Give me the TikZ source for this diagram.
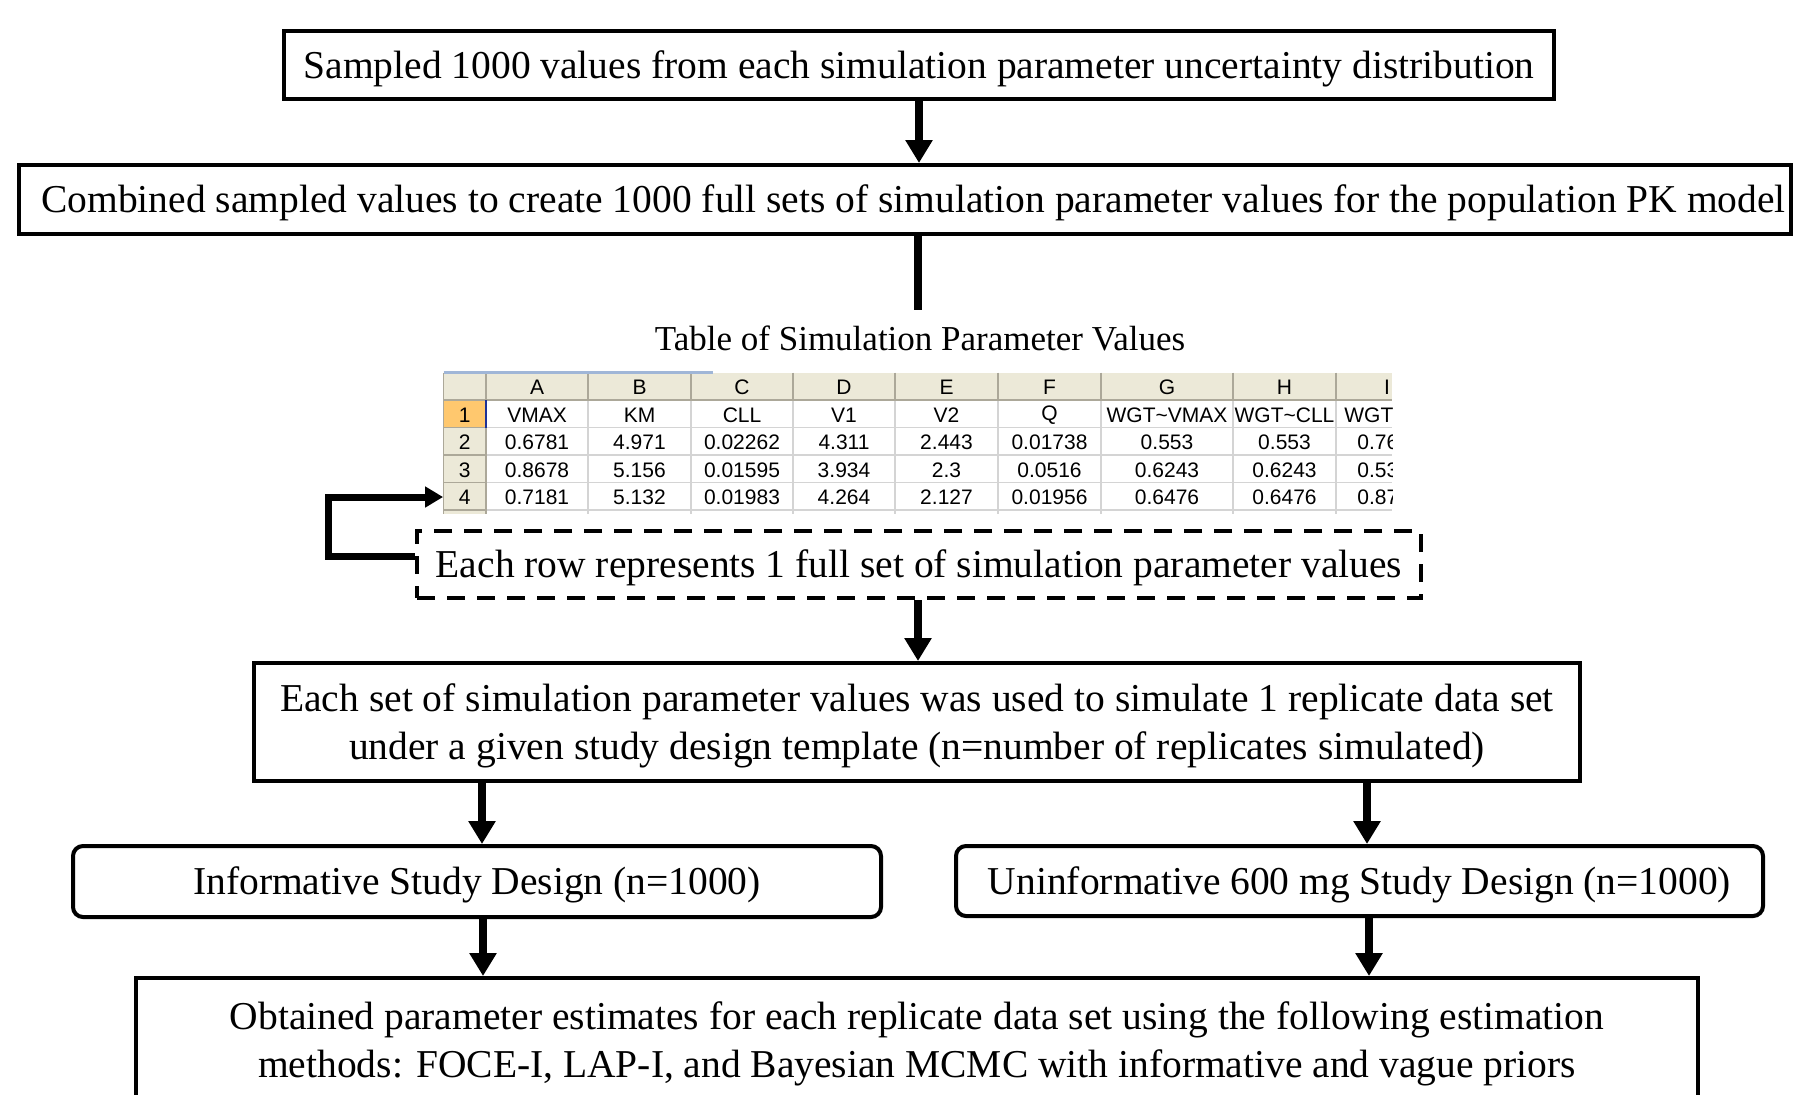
\documentclass[tikz,border=0pt]{standalone}
\usepackage{fontspec}
\setmainfont{Liberation Serif}
\newfontfamily\sheetfont{Liberation Sans}
\usetikzlibrary{arrows.meta,calc}
\definecolor{sheethead}{RGB}{236,233,216}
\definecolor{sheetsel}{RGB}{255,200,110}
\definecolor{sheetgrid}{RGB}{212,212,212}
\definecolor{sheetedge}{RGB}{172,168,153}
\definecolor{sheetblue}{RGB}{160,182,215}
\definecolor{selblue}{RGB}{30,50,150}

\begin{document}
\begin{tikzpicture}[x=0.5pt,y=-0.5pt,
  box/.style={draw,line width=2pt,inner sep=0pt,align=center,
    font=\fontsize{19.75}{24}\selectfont,text depth=0pt,text height=13pt},
  twoline/.style={text height=37pt},
  rbox/.style={box,rounded corners=5pt},
  dbox/.style={box,dash pattern=on 9pt off 6pt},
  flow/.style={line width=3.75pt,-{Triangle[width=13pt,length=11.5pt]}},
  plain/.style={line width=3.75pt},
  loopline/.style={line width=3.5pt,-{Triangle[width=10pt,length=9pt]}},
  cell/.style={inner sep=0pt,font=\sheetfont\fontsize{10.5}{12}\selectfont},
  gridline/.style={draw=sheetgrid,line width=0.6pt},
  edgeline/.style={draw=sheetedge,line width=0.6pt},
]
\clip (0,0) rectangle (1797,1094);

% ---- flow boxes ----
\node[box,minimum width=635pt,minimum height=34pt] (sample) at (919,65)
  {Sampled 1000 values from each simulation parameter uncertainty distribution};
\node[box,minimum width=885.75pt,minimum height=34.5pt] (combine) at (905,199.5)
  {\hspace*{8.5pt}Combined sampled values to create 1000 full sets of simulation parameter values for the population PK model};
\coordinate (tabtop) at (918,310);
\node[font=\fontsize{17.5}{20}\selectfont,inner sep=0pt,text depth=0pt,text height=11.5pt] (title) at (920,339)
  {Table of Simulation Parameter Values};
\node[dbox,minimum width=502pt,minimum height=33.5pt] (rowset) at (919,564.5)
  {Each row represents 1 full set of simulation parameter values};
\node[box,twoline,minimum width=663pt,minimum height=59pt] (simulate) at (917,722)
  {Each set of simulation parameter values was used to simulate 1 replicate data set\\
   under a given study design template (n=number of replicates simulated)};
\node[rbox,minimum width=404pt,minimum height=35.5pt] (inf) at (477,881.5)
  {Informative Study Design (n=1000)};
\node[rbox,minimum width=403.5pt,minimum height=35pt] (uninf) at (1359.5,881)
  {Uninformative 600 mg Study Design (n=1000)};
\node[box,twoline,minimum width=781pt,minimum height=62.5pt] (estimate) at (917,1040.5)
  {Obtained parameter estimates for each replicate data set using the following estimation\\
   methods: FOCE-I, LAP-I, and Bayesian MCMC with informative and vague priors};

% ---- spreadsheet excerpt ----
\begin{scope}
\clip (443,370) rectangle (1392,514);
\fill[sheethead] (443.5,372.5) rectangle (1392,400);
\fill[sheethead] (443.5,400) rectangle (486,514);
\fill[sheetsel] (443.5,400) rectangle (486,427.5);
\foreach \y in {427.5,455,482.5,510}
  \draw[gridline] (486,\y) -- (1392,\y);
\foreach \x in {588,691,793,895,998,1101,1233,1336}
  \draw[gridline] (\x,400) -- (\x,514);
\foreach \x in {486,588,691,793,895,998,1101,1233,1336}
  \draw[edgeline] (\x,372.5) -- (\x,400);
\foreach \y in {427.5,455,482.5,510}
  \draw[edgeline] (443.5,\y) -- (486,\y);
\draw[edgeline] (443.5,400) -- (1392,400);
\draw[edgeline] (486,400) -- (486,514);
\draw[edgeline] (443.5,372.5) -- (443.5,514);
\draw[sheetblue,line width=1.2pt] (443.5,372.5) -- (713,372.5);
\draw[selblue,line width=1pt] (486,400) -- (486,427.5);
% column letters
\foreach \x/\t in {537/A,639.5/B,742/C,844/D,946.5/E,1049.5/F,1167/G,1284.5/H,1387/I}
  \node[cell] (col\t) at (\x,387.5) {\t};
% row numbers
\foreach \r/\y in {1/415,2/442.5,3/470}
  \node[cell] (rn\r) at (464.75,\y) {\r};
\node[cell,minimum width=21.25pt,minimum height=13.75pt] (rn4) at (464.75,497) {4};
% cell values
\foreach \x/\n/\a/\b/\c in {
    537/VMAX/0.6781/0.8678/0.7181,
    639.5/KM/4.971/5.156/5.132,
    742/CLL/0.02262/0.01595/0.01983,
    844/V1/4.311/3.934/4.264,
    946.5/V2/2.443/2.3/2.127,
    1049.5/Q/0.01738/0.0516/0.01956,
    1167/WGT\textasciitilde VMAX/0.553/0.6243/0.6476,
    1284.5/WGT\textasciitilde CLL/0.553/0.6243/0.6476}{
  \node[cell] at (\x,415) {\n};
  \node[cell] at (\x,442.5) {\a};
  \node[cell] at (\x,470) {\b};
  \node[cell] at (\x,497) {\c};
}
\node[cell,anchor=west] (iname) at (1344,415) {WGT};
\node[cell,anchor=west] (ia) at (1357,442.5) {0.76};
\node[cell,anchor=west] (ib) at (1357,470) {0.53};
\node[cell,anchor=west] (ic) at (1357,497) {0.87};
\end{scope}

% ---- connectors ----
\coordinate (xa) at (919,0);
\coordinate (xb) at (918,0);
\coordinate (xl) at (482,0);
\coordinate (xr) at (1367,0);
\coordinate (xl2) at (483,0);
\coordinate (xr2) at (1369,0);
\coordinate (fb) at (0,556);
\draw[flow] (sample.south -| xa) -- (combine.north -| xa);
\draw[plain] (combine.south -| tabtop) -- (tabtop);
\draw[flow] (rowset.south -| xb) -- (simulate.north -| xb);
\draw[flow] (simulate.south -| xl) -- (inf.north -| xl);
\draw[flow] (simulate.south -| xr) -- (uninf.north -| xr);
\draw[flow] (inf.south -| xl2) -- (estimate.north -| xl2);
\draw[flow] (uninf.south -| xr2) -- (estimate.north -| xr2);
\draw[loopline] (rowset.west |- fb) -- ++(-87,0) |- (rn4.west);
\end{tikzpicture}
\end{document}
